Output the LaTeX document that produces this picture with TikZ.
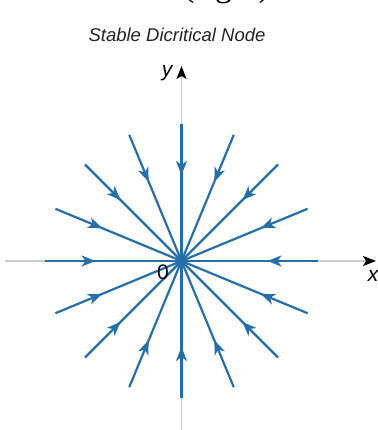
\documentclass[tikz,border=0pt]{standalone}
\usepackage{fontspec}
\setmainfont{Liberation Serif}
\setsansfont{Liberation Sans}
\usetikzlibrary{arrows.meta,decorations.markings,calc}
\definecolor{raycol}{RGB}{38,110,170}
\definecolor{axiscol}{RGB}{204,204,204}
\definecolor{titlecol}{RGB}{35,35,35}
\begin{document}
\begin{tikzpicture}[x=1pt,y=-1pt,
  axisline/.style={draw=axiscol,line width=1.9pt,
    -{Stealth[black,length=13pt,width=10pt,inset=3pt]}},
  ray/.style={draw,color=raycol,line width=2.2pt,postaction={decorate},
    decoration={markings,mark=at position 0.37 with
      {\arrow{Stealth[length=14pt,width=11pt,inset=4pt]}}}},
  lbl/.style={font=\sffamily\itshape\fontsize{21}{21}\selectfont,inner sep=0pt},
  title/.style={font=\sffamily\itshape\fontsize{18.5}{18.5}\selectfont,
    text=titlecol,inner sep=0pt,anchor=base}]
\useasboundingbox (0,0) rectangle (377,430);

% caption of the panel above, cut by the page edge
\begin{scope}
  \clip (0,0) rectangle (377,430);
  \node[font=\fontsize{34}{34}\selectfont,inner sep=0pt,anchor=base]
    (cap) at (226.5,-3) {(right)};
\end{scope}

\node[title] (ttl) at (177,42) {Stable Dicritical Node};

% origin and axes
\coordinate (O) at (181.5,261);
\coordinate (xl) at (5,261);
\coordinate (xr) at (376,261);
\coordinate (yb) at (181.5,430);
\coordinate (yt) at (181.5,66);
\draw[axisline] (xl) -- (xr);
\draw[axisline] (yb) -- (yt);

% sixteen trajectories flowing into the node
\foreach \i in {0,...,15}{
  \coordinate (r\i) at ($(O)+({\i*22.5}:136.5)$);
  \draw[ray] (r\i) -- (O);
}

\node[lbl] (ylab) at (167,73) {y};
\node[lbl] (xlab) at (373,276) {x};
\node[lbl,font=\sffamily\fontsize{21}{21}\selectfont] (zero) at (163,272) {0};
\end{tikzpicture}
\end{document}
